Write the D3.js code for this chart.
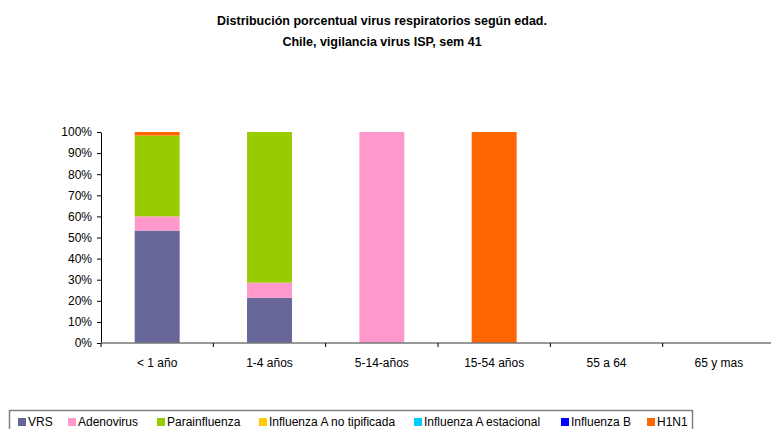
<!DOCTYPE html>
<html><head><meta charset="utf-8">
<script src="https://cdn.jsdelivr.net/npm/d3@7"></script>
<style>
body{margin:0;background:#fff;}
svg text{font-family:"Liberation Sans",Arial,sans-serif;}
</style></head>
<body><svg id="c" width="771" height="429"></svg>
<script>
const categories = ["< 1 año","1-4 años","5-14-años","15-54 años","55 a 64","65 y mas"];
const seriesNames = ["VRS","Adenovirus","Parainfluenza","Influenza A no tipificada","Influenza A estacional","Influenza B","H1N1"];
const seriesColors = ["#666699","#ff99cc","#99cc00","#ffcc00","#00ccff","#0000ff","#ff6600"];
// percent share per age group, in series order
const VRS            = [53.3, 21.4, 0, 0, 0, 0];
const Adenovirus     = [6.7, 7.2, 100, 0, 0, 0];
const Parainfluenza  = [38.3, 71.4, 0, 0, 0, 0];
const InfANoTip      = [0, 0, 0, 0, 0, 0];
const InfAEstacional = [0, 0, 0, 0, 0, 0];
const InfB           = [0, 0, 0, 0, 0, 0];
const H1N1           = [1.7, 0, 0, 100, 0, 0];
const yTicks = [0,10,20,30,40,50,60,70,80,90,100];

const seriesValues = [VRS, Adenovirus, Parainfluenza, InfANoTip, InfAEstacional, InfB, H1N1];
const rows = categories.map((c,i)=>{
  const r = {cat:c};
  seriesNames.forEach((s,j)=>r[s]=seriesValues[j][i]);
  return r;
});

const svg = d3.select("#c");
const plotL = 101, plotR = 775, plotT = 132, plotB = 343;

const x = d3.scaleBand().domain(categories).range([plotL,plotR]).paddingInner(0.6).paddingOuter(0.3);
const xb = d3.scaleBand().domain(categories).range([plotL,plotR]);
const y = d3.scaleLinear().domain([0,100]).range([plotB,plotT]);

// title
const title = svg.append("text").attr("text-anchor","middle").attr("font-weight","bold").attr("font-size",12.5).attr("fill","#000");
title.append("tspan").attr("x",382).attr("y",25).text("Distribución porcentual virus respiratorios según edad.");
title.append("tspan").attr("x",382).attr("y",46).text("Chile, vigilancia virus ISP, sem 41");

// stacked bars
const stack = d3.stack().keys(seriesNames)(rows);
svg.append("g").selectAll("g").data(stack).join("g")
  .attr("fill",(d,i)=>seriesColors[i])
  .selectAll("rect").data(d=>d).join("rect")
  .attr("x",d=>x(d.data.cat))
  .attr("width",x.bandwidth())
  .attr("y",d=>y(d[1]))
  .attr("height",d=>Math.max(0,y(d[0])-y(d[1])));

// y axis
const ya = svg.append("g").attr("transform",`translate(${plotL},0)`)
  .call(d3.axisLeft(y).tickValues(yTicks).tickFormat(d=>d+"%").tickSize(4).tickSizeOuter(0));
ya.select(".domain").attr("stroke","#000");
ya.selectAll("line").attr("stroke","#000");
ya.selectAll("text").attr("font-size",12).attr("fill","#000").attr("font-family","Liberation Sans, Arial, sans-serif").attr("x",-9);

// x axis
const xa = svg.append("g").attr("transform",`translate(0,${plotB})`);
xa.append("line").attr("x1",plotL).attr("x2",771).attr("y1",0).attr("y2",0).attr("stroke","#777").attr("stroke-width",1.5);
xa.selectAll("line.t").data(categories).join("line").attr("class","t")
  .attr("x1",d=>xb(d)).attr("x2",d=>xb(d)).attr("y1",0).attr("y2",4).attr("stroke","#000");
xa.selectAll("text").data(categories).join("text")
  .attr("x",d=>xb(d)+xb.bandwidth()/2).attr("y",24)
  .attr("text-anchor","middle").attr("font-size",12).attr("fill","#000").text(d=>d);

// legend
const lg = svg.append("g");
lg.append("rect").attr("x",9.5).attr("y",410.5).attr("width",683).attr("height",25).attr("fill","#fff").attr("stroke","#808080").attr("stroke-width",1.5);
const legendX = [18,68,157,259,414,561,647];
seriesNames.forEach((s,i)=>{
  lg.append("rect").attr("x",legendX[i]).attr("y",418).attr("width",8).attr("height",8).attr("fill",seriesColors[i]);
  lg.append("text").attr("x",legendX[i]+10).attr("y",426).attr("font-size",12).attr("fill","#000").text(s);
});
</script></body></html>
